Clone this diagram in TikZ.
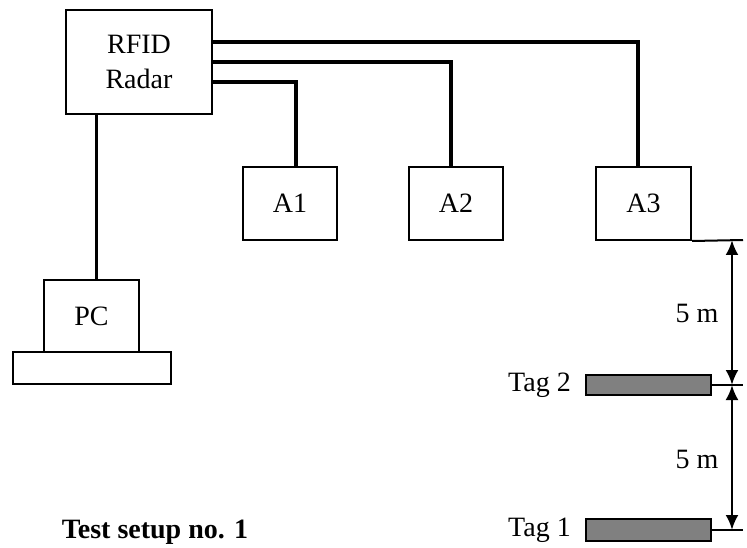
\documentclass[tikz,border=0pt]{standalone}
\usepackage{fontspec}
\setmainfont{Liberation Serif}
\usepackage{tikz}
\usepackage{xcolor}
\usetikzlibrary{positioning, arrows.meta}

\definecolor{tagfill}{RGB}{128,128,128}

\begin{document}
\begin{tikzpicture}[x=1pt, y=-1pt,
    box/.style={rectangle, draw=black, line width=2pt, inner sep=0pt, font=\fontsize{28}{35}\selectfont},
    tagbar/.style={rectangle, draw=black, line width=2pt, fill=tagfill, inner sep=0pt, minimum width=125pt},
    lbl/.style={inner sep=0pt, font=\fontsize{28}{35}\selectfont},
    cable/.style={line width=3.6pt},
    dim/.style={line width=2pt},
    dimarrow/.style={line width=2.6pt, {Latex[length=15pt, width=13pt]}-{Latex[length=15pt, width=13pt]}}]
            \useasboundingbox (0, 0) rectangle (747, 548);

            \node[box, minimum width=146pt, minimum height=104pt, align=center] (rfid) at (139, 62) {RFID\\Radar};
            \node[box, minimum width=94pt, minimum height=73pt] (a1) at (290, 203.5) {A1};
            \node[box, minimum width=94pt, minimum height=73pt] (a2) at (456, 203.5) {A2};
            \node[box, minimum width=95pt, minimum height=73pt] (a3) at (643.5, 203.5) {A3};
            \node[box, minimum width=95pt, minimum height=72pt] (pc) at (91.5, 316) {PC};
            \node[box, minimum width=158pt, minimum height=32pt] (pcbase) at (92, 368) {};

            \node[tagbar, minimum height=20pt] (tag2) at (648.5, 385) {};
            \node[tagbar, minimum height=22pt] (tag1) at (648.5, 530) {};
            \node[lbl, anchor=east] (tag2lbl) at (571, 385) {Tag 2};
            \node[lbl, anchor=east] (tag1lbl) at (571, 530) {Tag 1};
            \node[lbl] (dist1) at (697, 313) {5 m};
            \node[lbl] (dist2) at (697, 459) {5 m};
            \node[lbl, font=\fontsize{28}{35}\selectfont\bfseries] (title) at (155, 532) {Test setup no. 1};

            % cables from the radar
            \draw[cable] ([yshift=20pt]rfid.east) -| ([xshift=-5.5pt]a3.north);
            \draw[cable] (rfid.east) -| ([xshift=-5pt]a2.north);
            \draw[cable] ([yshift=-20pt]rfid.east) -| ([xshift=6pt]a1.north);
            \draw[cable] ([xshift=5pt]pc.north) -- ([xshift=5pt]pc.north |- rfid.south);

            % distances
            \coordinate (d0) at (732, 240);
            \coordinate (d1) at (732, 385);
            \coordinate (d2) at (732, 530);
            \draw[dim] (a3.south east) -- (743, 240);
            \draw[dim] (tag2.east) -- (743, 385);
            \draw[dim] (tag1.east) -- (743, 530);
            \draw[dimarrow] (d0) -- (d1);
            \draw[dimarrow] (d1) -- (d2);
        \end{tikzpicture}
\end{document}
